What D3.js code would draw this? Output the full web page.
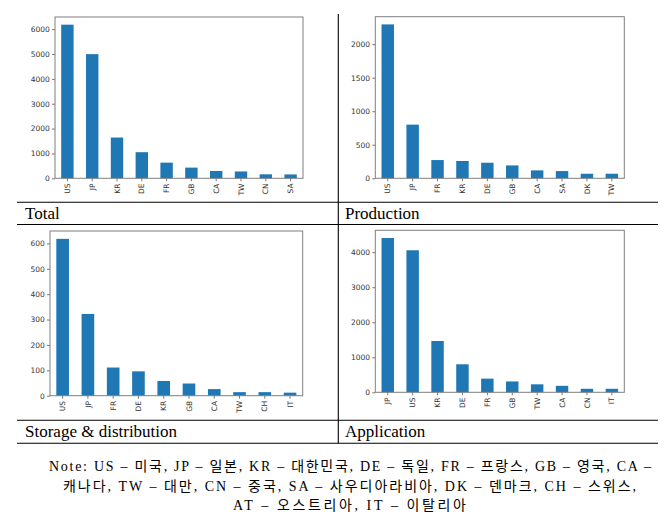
<!DOCTYPE html>
<html>
<head>
<meta charset="utf-8">
<script src="https://cdn.jsdelivr.net/npm/d3@7"></script>
<style>
  html, body { margin: 0; padding: 0; background: #fff; }
  svg { display: block; }
</style>
</head>
<body>
<svg id="chart" width="672" height="516"></svg>
<script>
// ---- data ----
const totalCats = ["US", "JP", "KR", "DE", "FR", "GB", "CA", "TW", "CN", "SA"];
const totalVals = [6180, 4995, 1640, 1050, 630, 430, 295, 275, 160, 155];
const totalTicks = [0, 1000, 2000, 3000, 4000, 5000, 6000];

const prodCats = ["US", "JP", "FR", "KR", "DE", "GB", "CA", "SA", "DK", "TW"];
const prodVals = [2295, 800, 272, 258, 232, 192, 118, 108, 68, 68];
const prodTicks = [0, 500, 1000, 1500, 2000];

const storCats = ["US", "JP", "FR", "DE", "KR", "GB", "CA", "TW", "CH", "IT"];
const storVals = [618, 322, 111, 96, 58, 48, 26, 14, 14, 12];
const storTicks = [0, 100, 200, 300, 400, 500, 600];

const appCats = ["JP", "US", "KR", "DE", "FR", "GB", "TW", "CA", "CN", "IT"];
const appVals = [4405, 4055, 1465, 800, 390, 310, 228, 185, 100, 100];
const appTicks = [0, 1000, 2000, 3000, 4000];

const captions = ["Total", "Production", "Storage & distribution", "Application"];
const noteLines = [
  "Note: US – 미국, JP – 일본, KR – 대한민국, DE – 독일, FR – 프랑스, GB – 영국, CA –",
  "캐나다, TW – 대만, CN – 중국, SA – 사우디아라비아, DK – 덴마크, CH – 스위스,",
  "AT – 오스트리아, IT – 이탈리아"
];

// ---- layout ----
const svg = d3.select("#chart");
const panels = [
  { cats: totalCats, vals: totalVals, ticks: totalTicks, x0: 55, x1: 303, y0: 17, y1: 178.3 },
  { cats: prodCats, vals: prodVals, ticks: prodTicks, x0: 375.3, x1: 624.3, y0: 16.7, y1: 178.3 },
  { cats: storCats, vals: storVals, ticks: storTicks, x0: 50, x1: 302.7, y0: 231, y1: 395.7 },
  { cats: appCats, vals: appVals, ticks: appTicks, x0: 375.3, x1: 624.3, y0: 230.3, y1: 392.3 }
];

const barColor = "#1f77b4";
const tickFont = "'DejaVu Sans', sans-serif";
const serifFont = "'Liberation Serif', 'Times New Roman', serif";
const noteFont = "'Liberation Serif', 'Noto Sans CJK KR', serif";

panels.forEach(p => {
  const x = d3.scaleBand().domain(p.cats).range([p.x0, p.x1])
    .paddingInner(0.5).paddingOuter(0.25);
  const y = d3.scaleLinear().domain([0, d3.max(p.vals) * 1.05]).range([p.y1, p.y0]);
  const g = svg.append("g");

  g.selectAll("rect.bar").data(p.cats).enter().append("rect")
    .attr("class", "bar")
    .attr("x", d => x(d))
    .attr("width", x.bandwidth())
    .attr("y", (d, i) => y(p.vals[i]))
    .attr("height", (d, i) => y(0) - y(p.vals[i]))
    .attr("fill", barColor);

  // y axis
  const ya = g.append("g").attr("transform", `translate(${p.x0},0)`)
    .call(d3.axisLeft(y).tickValues(p.ticks).tickSize(3).tickPadding(2.2).tickFormat(d3.format("d")));
  ya.select(".domain").remove();
  ya.selectAll("line").attr("stroke", "#555").attr("stroke-width", 0.8);
  ya.selectAll("text").attr("fill", "#333").style("font-family", tickFont).style("font-size", "7.5px");

  // x axis
  const xa = g.append("g").attr("transform", `translate(0,${p.y1})`)
    .call(d3.axisBottom(x).tickSize(3).tickPadding(2.2));
  xa.select(".domain").remove();
  xa.selectAll("line").attr("stroke", "#555").attr("stroke-width", 0.8);
  xa.selectAll("text")
    .attr("fill", "#333").style("font-family", tickFont).style("font-size", "7.5px")
    .attr("transform", "rotate(-90)")
    .attr("text-anchor", "end")
    .attr("x", -5.2).attr("y", 0).attr("dy", "0.35em");

  // frame
  g.append("rect")
    .attr("x", p.x0).attr("y", p.y0)
    .attr("width", p.x1 - p.x0).attr("height", p.y1 - p.y0)
    .attr("fill", "none").attr("stroke", "#7f7f7f").attr("stroke-width", 1);
});

// ---- table lines ----
const lineG = svg.append("g").attr("stroke", "#000").attr("stroke-width", 1.1);
[202.3, 224.5, 420.3, 443.3].forEach(yy => {
  lineG.append("line").attr("x1", 17).attr("x2", 658).attr("y1", yy).attr("y2", yy);
});
lineG.append("line").attr("x1", 338.3).attr("x2", 338.3).attr("y1", 14).attr("y2", 443.3);

// ---- captions ----
const capPos = [[25, 219], [345, 219], [25, 437], [345, 437]];
captions.forEach((c, i) => {
  svg.append("text").attr("x", capPos[i][0]).attr("y", capPos[i][1])
    .style("font-family", serifFont)
    .style("font-size", "17px").attr("fill", "#000").text(c);
});

// ---- note ----
const noteY = [471, 490.5, 510];
const noteSpan = [[49, 651], [63, 636], [233, 466]];
noteLines.forEach((t, i) => {
  svg.append("text")
    .attr("x", noteSpan[i][0]).attr("y", noteY[i])
    .attr("textLength", noteSpan[i][1] - noteSpan[i][0])
    .attr("lengthAdjust", "spacing")
    .style("font-family", noteFont)
    .style("font-size", "14px").attr("fill", "#000").text(t);
});
</script>
</body>
</html>
